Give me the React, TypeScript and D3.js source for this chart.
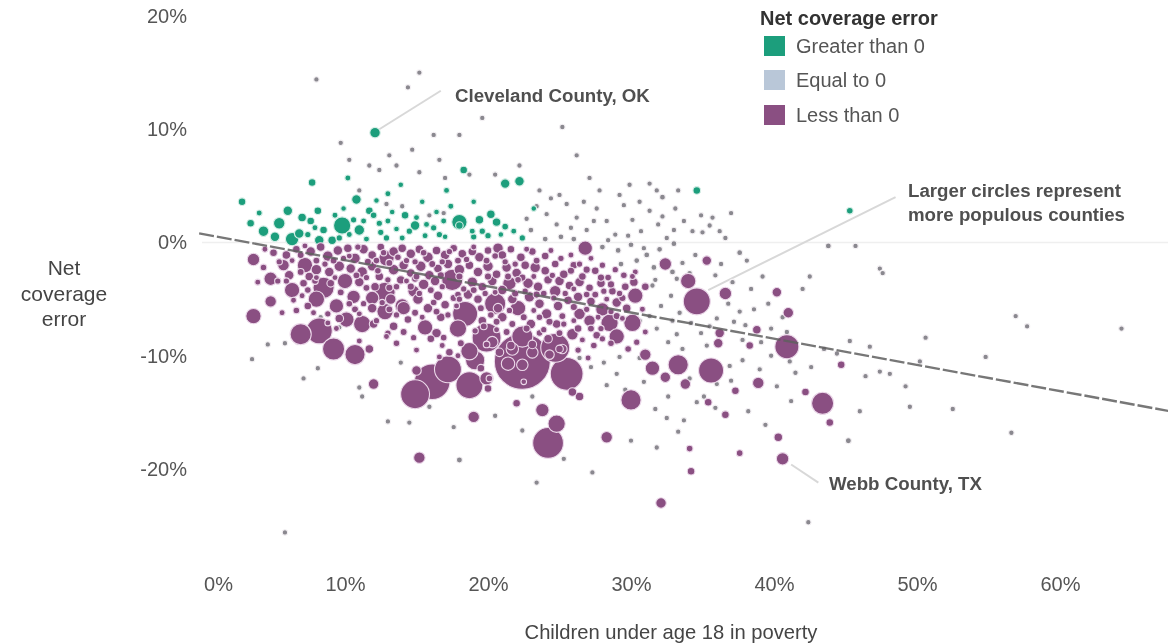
import React, { useEffect, useRef } from 'react';
import * as d3 from 'd3';

// [children in poverty %, net coverage error %, population in thousands]
type County = [number, number, number];

const xTicks = [0, 10, 20, 30, 40, 50, 60];
const yTicks = [20, 10, 0, -10, -20];

const legendLabels = ['Greater than 0', 'Equal to 0', 'Less than 0'];
const legendColors = ['#1f9e7c', '#b9c7d8', '#8a4f82'];

const trendPoverty = [-0.2, 67.7];
const trendError = [0.8, -14.9];

const greaterThanZero: County[] = [
  [9.8, 1.5, 817], [6.3, 0.3, 459], [5.4, 1.7, 319], [4.3, 1.0, 258], [5.1, 0.5, 204], [6.8, 0.8, 204],
  [3.4, 1.7, 115], [2.8, 3.6, 115], [6.0, 2.8, 204], [7.0, 2.2, 156], [7.6, 1.9, 115], [8.1, 2.8, 115],
  [10.8, 3.8, 204], [11.0, 1.1, 258], [8.2, 0.2, 204], [9.1, 0.2, 156], [8.5, 1.1, 115], [7.7, 5.3, 115],
  [14.9, 1.5, 204], [14.2, 2.4, 115], [11.7, 2.8, 115], [12.0, 2.4, 80], [12.1, 9.7, 258], [18.0, 1.8, 625],
  [18.0, 1.5, 115], [20.2, 2.5, 156], [21.2, 5.2, 204], [22.2, 5.4, 204], [18.3, 6.4, 115], [19.4, 2.0, 156],
  [20.6, 1.8, 156], [21.2, 1.4, 80], [34.6, 4.6, 115], [45.3, 2.8, 80], [13.0, 1.9, 60], [13.6, 1.2, 50],
  [12.5, 0.9, 70], [9.9, 3.0, 50], [15.6, 0.6, 60], [16.2, 1.3, 70], [17.0, 0.5, 50], [22.4, 0.4, 70],
  [21.8, 1.0, 60], [19.0, 0.5, 70], [4.0, 2.6, 60], [10.2, 5.7, 60], [13.0, 4.3, 60], [15.4, 3.6, 50],
  [17.1, 4.6, 60], [23.2, 3.0, 50], [11.5, 0.3, 60], [14.0, 0.4, 60], [9.3, 2.4, 60], [10.6, 2.0, 70],
  [11.3, 1.9, 60], [12.4, 1.7, 70], [12.9, 0.4, 70], [13.3, 2.7, 50], [14.5, 1.0, 70], [15.0, 2.2, 60],
  [15.7, 1.6, 60], [16.6, 0.7, 70], [16.9, 1.9, 60], [18.9, 1.0, 60], [19.6, 1.0, 70], [20.0, 0.6, 70],
  [20.9, 0.7, 50], [7.4, 0.7, 70], [7.9, 1.3, 60], [9.6, 0.4, 70], [10.3, 0.7, 60], [16.4, 2.7, 50],
  [17.4, 3.2, 60], [19.0, 3.6, 50], [12.2, 3.7, 50], [13.9, 5.1, 50],
];

const lessThanZero: County[] = [
  [22.4, -10.5, 10000], [16.1, -12.3, 3907], [25.5, -11.6, 3266], [24.2, -17.7, 2871], [14.9, -13.4, 2500],
  [19.9, -8.4, 2500], [24.7, -9.3, 2500], [17.2, -11.2, 2156], [18.7, -12.6, 2156], [34.6, -5.2, 2156],
  [8.2, -7.8, 1993], [18.4, -6.3, 1837], [35.6, -11.3, 1837], [40.9, -9.2, 1687], [9.2, -9.4, 1406],
  [43.4, -14.2, 1406], [8.5, -4.0, 1276], [6.9, -8.1, 1276], [20.5, -5.4, 1276], [22.4, -8.3, 1276],
  [17.5, -3.3, 1276], [10.7, -9.9, 1151], [12.8, -4.4, 1151], [30.0, -13.9, 1151], [33.3, -10.8, 1151],
  [19.1, -10.4, 1033], [11.2, -7.2, 817], [17.9, -7.6, 817], [18.7, -9.6, 817], [24.8, -16.0, 817],
  [30.1, -7.1, 817], [28.5, -7.1, 817], [8.0, -5.0, 718], [12.8, -6.1, 718], [6.3, -4.2, 625],
  [3.6, -6.5, 625], [7.2, -2.0, 625], [10.0, -3.4, 625], [10.1, -6.8, 625], [12.9, -1.4, 625],
  [22.1, -5.8, 625], [15.6, -7.5, 625], [30.3, -4.7, 625], [29.0, -8.3, 625], [34.0, -3.4, 625],
  [9.4, -5.6, 539], [14.0, -5.6, 539], [26.8, -0.5, 539], [31.5, -11.1, 539], [4.8, -3.2, 459],
  [10.6, -4.8, 459], [11.9, -4.9, 459], [19.9, -12.0, 459], [23.8, -14.8, 459], [28.0, -5.9, 459],
  [21.5, -3.6, 459], [14.1, -5.8, 459], [3.6, -1.5, 386], [32.4, -1.9, 386], [36.6, -4.5, 386],
  [40.6, -19.1, 386], [4.8, -5.2, 319], [5.7, -2.0, 319], [14.8, -4.3, 319], [19.0, -15.4, 319],
  [15.2, -19.0, 319], [28.3, -17.2, 319], [27.1, -6.9, 319], [25.9, -8.1, 319], [26.4, -6.3, 319],
  [24.7, -4.3, 319], [31.0, -9.9, 319], [38.9, -12.4, 319], [12.0, -12.5, 258], [23.3, -2.2, 258],
  [20.7, -0.5, 258], [32.4, -11.9, 258], [33.8, -12.5, 258], [41.0, -6.2, 258], [32.1, -23.0, 258],
  [11.7, -9.4, 156], [12.0, -7.2, 156], [16.4, -8.0, 204], [15.0, -11.3, 204], [35.3, -1.6, 204],
  [40.2, -4.4, 204], [36.2, -8.0, 204], [36.1, -8.9, 204], [26.4, -13.6, 156], [25.9, -13.2, 156],
  [40.3, -17.2, 156], [38.8, -7.7, 156], [16.0, -8.5, 115], [17.3, -9.7, 115], [22.0, -14.2, 115],
  [20.0, -12.9, 115], [35.4, -14.1, 115], [37.3, -13.1, 115], [42.2, -13.2, 115], [34.2, -20.2, 115],
  [38.3, -9.1, 115], [44.7, -10.8, 115], [43.9, -15.9, 115], [36.6, -15.2, 115], [37.6, -18.6, 80],
  [34.1, -18.2, 80],
  // circles drawn inside the largest ones
  [21.4, -10.7, 459], [22.4, -10.8, 319], [23.1, -9.7, 319], [21.7, -9.4, 386], [22.5, -12.3, 50], [25.2, -9.4, 204],
  [24.3, -9.9, 204], [20.7, -5.8, 204], [20.3, -8.8, 319], [19.9, -9.0, 80],
  // dense band just under the zero line
  [5.0, -0.9, 115], [5.9, -1.1, 156], [6.6, -0.6, 115], [7.6, -0.8, 204], [8.3, -0.4, 156], [8.8, -1.2, 258],
  [9.5, -0.7, 204], [10.2, -0.5, 156], [10.7, -1.4, 258], [11.3, -0.6, 204], [11.9, -1.1, 156], [12.5, -0.4, 115],
  [13.4, -0.8, 204], [14.0, -0.5, 156], [14.6, -1.0, 204], [15.2, -0.6, 156], [15.8, -1.3, 258], [16.4, -0.7, 156],
  [17.0, -1.1, 204], [17.6, -0.5, 115], [18.2, -1.0, 156], [18.9, -0.8, 156], [19.4, -1.3, 204], [20.0, -0.7, 115],
  [21.0, -1.1, 156], [21.6, -0.6, 115], [22.3, -1.3, 156], [23.1, -0.8, 115], [24.0, -1.2, 115], [6.1, -2.9, 204],
  [7.5, -3.0, 156], [8.0, -2.4, 258], [8.9, -2.6, 204], [9.6, -2.1, 258], [10.4, -2.3, 204], [11.2, -2.6, 258],
  [11.9, -2.1, 204], [12.4, -3.0, 156], [13.4, -2.4, 258], [14.1, -2.0, 204], [14.6, -2.7, 156], [15.3, -2.1, 258],
  [15.9, -2.9, 204], [16.5, -2.3, 156], [17.2, -1.9, 204], [18.0, -2.4, 258], [18.7, -2.0, 156], [19.3, -2.6, 204],
  [20.0, -2.1, 258], [20.6, -2.8, 156], [21.3, -2.2, 204], [22.0, -2.7, 204], [22.6, -2.0, 156], [24.0, -2.5, 156],
  [24.7, -1.9, 115], [25.3, -2.8, 156], [26.0, -2.0, 115], [26.6, -3.0, 115], [27.5, -2.5, 115], [28.4, -3.1, 80],
  [7.1, -3.6, 115], [9.0, -3.6, 115], [11.0, -3.5, 204], [12.1, -3.9, 156], [13.9, -3.3, 156], [15.5, -3.7, 258],
  [16.3, -3.4, 204], [18.9, -3.5, 258], [19.6, -3.9, 156], [20.3, -3.4, 204], [21.0, -4.2, 204], [22.8, -3.6, 258],
  [23.5, -3.9, 204], [24.2, -3.3, 156], [25.0, -3.4, 204], [25.7, -3.8, 156], [26.4, -3.5, 204], [27.1, -4.0, 115],
  [27.9, -3.6, 156], [28.7, -4.3, 115], [29.6, -3.9, 115], [30.2, -3.5, 156], [31.0, -3.9, 115], [7.4, -5.6, 115],
  [6.6, -6.0, 80], [9.6, -6.7, 156], [11.9, -5.8, 204], [13.2, -5.0, 258], [15.1, -5.0, 258], [15.8, -5.8, 204],
  [16.5, -4.7, 204], [17.0, -5.5, 156], [18.6, -4.6, 204], [19.3, -5.0, 156], [21.0, -6.6, 204], [21.7, -5.0, 204],
  [22.9, -4.8, 258], [23.6, -5.4, 204], [24.1, -6.3, 258], [24.9, -5.6, 204], [25.6, -5.1, 156], [26.3, -4.8, 204],
  [27.2, -5.2, 156], [29.0, -5.3, 204], [29.7, -5.8, 156], [13.4, -7.4, 156], [14.4, -6.8, 115], [16.7, -6.6, 156],
  [19.6, -6.9, 156], [23.0, -7.2, 204], [24.8, -7.2, 156], [26.3, -7.6, 115], [27.6, -8.2, 115], [21.6, -9.1, 156],
  [20.8, -9.7, 156], [23.1, -9.0, 156], [24.2, -8.5, 156], [25.0, -9.4, 115], [19.5, -11.1, 115], [20.1, -12.0, 80],
  [28.6, -8.9, 80], [29.8, -9.4, 80], [27.4, -9.1, 80], [13.6, -8.9, 80], [12.9, -8.3, 60], [15.0, -9.5, 60],
  // smaller circles filling the gaps in the band
  [4.4, -0.6, 60], [5.4, -1.7, 70], [6.3, -1.6, 60], [6.9, -1.1, 90], [7.2, -0.3, 60], [8.0, -1.6, 90],
  [8.6, -1.9, 70], [9.2, -1.6, 90], [9.9, -1.4, 70], [10.3, -1.2, 60], [10.9, -0.4, 70], [11.6, -1.7, 90],
  [12.2, -1.6, 80], [12.7, -0.9, 70], [13.1, -1.8, 90], [13.7, -1.3, 80], [14.3, -1.6, 70], [14.9, -1.7, 70],
  [15.5, -0.9, 80], [16.1, -1.9, 90], [16.8, -1.7, 70], [17.3, -0.8, 70], [17.9, -1.6, 90], [18.5, -1.5, 70],
  [19.0, -0.4, 60], [19.9, -1.6, 90], [20.5, -1.2, 80], [21.2, -1.7, 70], [21.9, -1.9, 70], [22.7, -0.6, 60],
  [23.4, -1.6, 90], [24.4, -0.7, 60], [25.1, -1.4, 70], [25.8, -1.1, 60], [26.4, -1.9, 70], [27.2, -1.4, 60],
  [28.0, -2.0, 70], [28.9, -2.4, 70], [29.5, -2.9, 80], [30.3, -2.6, 60], [5.3, -3.4, 70], [6.9, -2.6, 90],
  [7.9, -3.4, 80], [8.0, -3.1, 60], [9.3, -3.1, 60], [10.8, -2.9, 90], [11.5, -3.1, 70], [12.3, -2.5, 80],
  [13.0, -3.3, 70], [13.6, -3.9, 80], [14.3, -3.4, 60], [14.9, -3.2, 90], [15.2, -4.5, 70], [16.0, -4.2, 90],
  [16.8, -3.9, 70], [17.9, -4.6, 80], [18.3, -4.1, 70], [19.0, -4.2, 90], [19.8, -4.5, 70], [20.5, -4.4, 60],
  [21.4, -3.0, 90], [22.1, -3.3, 80], [22.6, -4.3, 70], [23.2, -3.0, 60], [23.9, -4.5, 80], [24.5, -2.9, 70],
  [25.4, -4.5, 70], [26.0, -4.1, 60], [26.9, -4.6, 80], [27.5, -4.6, 90], [28.1, -4.3, 70], [28.3, -5.0, 60],
  [29.2, -4.5, 70], [30.1, -3.0, 60], [6.4, -5.1, 60], [7.0, -4.7, 60], [7.8, -6.2, 60], [8.8, -6.3, 70],
  [10.3, -5.4, 80], [10.7, -5.9, 90], [11.3, -5.4, 70], [11.0, -6.3, 60], [12.2, -6.9, 70], [13.1, -5.9, 90],
  [13.6, -6.4, 70], [14.9, -6.2, 90], [15.4, -6.6, 60], [16.2, -5.3, 80], [16.4, -6.1, 90], [17.2, -6.4, 70],
  [17.8, -5.6, 60], [19.5, -5.8, 90], [20.2, -6.4, 80], [20.6, -7.0, 90], [21.5, -6.0, 70], [21.7, -7.2, 90],
  [22.5, -6.6, 90], [23.2, -6.0, 60], [23.6, -6.6, 80], [25.2, -6.5, 90], [25.3, -7.2, 70], [26.0, -6.9, 60],
  [26.9, -5.9, 70], [27.2, -7.6, 90], [27.7, -6.6, 60], [28.6, -6.1, 70], [29.4, -6.7, 60], [13.0, -8.0, 70],
  [14.1, -7.9, 90], [14.8, -8.4, 70], [16.9, -8.4, 80], [18.1, -8.9, 90], [19.1, -7.8, 70], [20.6, -7.7, 60],
  [21.3, -7.9, 90], [23.9, -7.7, 70], [25.0, -8.0, 90], [26.6, -8.6, 60], [28.0, -8.5, 70], [30.4, -8.8, 70],
  [31.0, -7.9, 60], [30.8, -5.9, 60], [16.8, -9.1, 60], [17.9, -10.0, 60], [26.3, -9.5, 70], [27.0, -10.2, 60],
  [16.6, -10.1, 60], [11.0, -8.7, 60], [9.4, -7.6, 60], [8.8, -7.1, 60], [12.6, -5.3, 70], [14.6, -3.9, 100],
  [17.6, -4.9, 100], [18.0, -5.0, 70], [20.0, -3.0, 100], [21.9, -4.5, 100], [22.4, -3.1, 100], [23.4, -4.6, 100],
  [24.6, -4.9, 70], [25.8, -2.5, 100], [26.9, -2.4, 100], [27.9, -3.1, 100], [28.6, -3.7, 100], [29.4, -4.9, 100],
  [18.0, -3.0, 100], [16.7, -2.9, 100], [15.0, -3.0, 90], [13.1, -4.0, 100], [11.5, -4.0, 90], [9.7, -4.4, 90],
  [7.4, -4.2, 80], [5.9, -3.4, 70], [4.3, -2.2, 80], [3.9, -3.5, 60], [5.6, -6.2, 60], [19.7, -7.4, 90],
  [22.7, -7.6, 100], [24.3, -7.0, 100], [26.0, -5.7, 100], [27.9, -7.6, 70], [29.0, -6.5, 100], [23.6, -8.0, 80],
];

const tinyCounties: County[] = [
  [8.0, 14.4, 45], [14.4, 13.7, 45], [15.2, 15.0, 45], [19.6, 11.0, 45], [16.2, 9.5, 45], [25.2, 10.2, 45],
  [26.2, 7.7, 45], [9.7, 8.8, 45], [13.1, 7.7, 45], [13.6, 6.8, 45], [14.7, 8.2, 45], [16.6, 7.3, 45],
  [18.0, 9.5, 45], [10.3, 7.3, 45], [11.7, 6.8, 45], [12.4, 6.4, 45], [15.2, 6.2, 45], [17.0, 5.7, 45],
  [18.7, 6.0, 45], [20.5, 6.0, 45], [22.2, 6.8, 45], [23.6, 4.6, 45], [25.0, 4.2, 45], [27.1, 5.7, 45],
  [27.8, 4.6, 45], [29.2, 4.2, 45], [31.3, 5.2, 45], [31.8, 4.6, 45], [33.3, 4.6, 45], [32.2, 4.0, 55],
  [23.4, 3.2, 45], [24.1, 2.5, 45], [24.8, 1.6, 45], [25.5, 3.4, 45], [26.2, 2.2, 45], [26.9, 1.1, 45],
  [27.6, 3.0, 45], [28.3, 1.9, 45], [28.9, 0.7, 45], [29.5, 3.3, 45], [30.1, 2.0, 45], [30.7, 1.0, 45],
  [31.3, 2.8, 45], [31.9, 1.6, 45], [32.5, 0.4, 45], [33.1, 3.0, 45], [33.7, 1.9, 45], [34.3, 1.0, 45],
  [34.9, 2.4, 45], [35.5, 1.5, 45], [36.2, 1.0, 45], [37.0, 2.6, 45], [35.0, 0.9, 45], [23.0, 1.1, 55],
  [22.7, 2.1, 45], [16.9, 2.6, 45], [15.9, 2.4, 45], [14.0, 3.2, 45], [12.9, 3.4, 45], [11.0, 4.6, 45],
  [24.0, 0.3, 55], [25.1, 0.5, 55], [26.0, 0.3, 55], [27.0, -0.2, 55], [28.0, -0.4, 55], [29.1, -0.7, 55],
  [30.0, -0.2, 55], [31.1, -1.1, 55], [32.0, -0.6, 55], [33.0, -0.1, 55], [30.4, -1.6, 55], [29.3, -1.9, 55],
  [31.6, -2.2, 55], [32.9, -2.6, 55], [33.6, -1.8, 45], [35.9, -2.9, 45], [34.1, -2.7, 45], [37.6, -0.9, 55],
  [38.1, -1.6, 45], [43.8, -0.3, 55], [45.7, -0.3, 45], [47.4, -2.3, 45], [47.6, -2.7, 45], [42.5, -3.0, 45],
  [42.0, -4.1, 45], [56.9, -6.5, 45], [57.7, -7.4, 45], [64.3, -7.6, 45], [54.8, -10.1, 45], [50.6, -8.4, 45],
  [47.4, -11.4, 45], [48.1, -11.6, 45], [49.5, -14.5, 45], [52.5, -14.7, 45], [56.6, -16.8, 45], [45.2, -17.5, 60],
  [42.4, -24.7, 45], [5.8, -25.6, 45], [50.2, -10.5, 45], [45.3, -8.7, 45], [46.7, -9.2, 45], [46.4, -11.8, 45],
  [49.2, -12.7, 45], [46.0, -14.9, 45], [43.9, -14.0, 45], [41.1, -10.5, 45], [39.0, -11.2, 45], [37.8, -10.4, 45],
  [36.9, -10.9, 45], [38.2, -14.9, 45], [39.4, -16.1, 45], [36.8, -5.4, 45], [37.6, -6.1, 45], [38.6, -5.9, 45],
  [39.6, -5.4, 45], [40.6, -6.6, 45], [37.2, -7.0, 45], [38.0, -7.3, 45], [39.8, -7.6, 45], [40.9, -7.9, 45],
  [34.2, -7.1, 45], [34.9, -8.0, 45], [33.2, -8.1, 45], [32.6, -8.8, 45], [31.8, -7.6, 45], [33.6, -9.4, 45],
  [35.3, -9.1, 45], [31.3, -6.5, 45], [32.1, -5.6, 45], [32.8, -4.7, 45], [33.4, -6.2, 45], [31.7, -3.3, 45],
  [29.2, -10.1, 45], [30.6, -10.2, 45], [30.9, -12.3, 45], [29.0, -11.6, 45], [28.1, -10.6, 45], [27.2, -11.0, 45],
  [26.4, -10.2, 45], [28.3, -12.6, 45], [29.6, -13.0, 45], [31.7, -14.7, 45], [32.5, -15.5, 45], [33.7, -15.7, 45],
  [33.3, -16.7, 45], [34.6, -14.1, 45], [35.1, -13.6, 45], [35.9, -14.6, 45], [30.0, -17.5, 45], [27.3, -20.3, 45],
  [23.4, -21.2, 45], [18.0, -19.2, 60], [31.8, -18.1, 45], [25.3, -19.1, 45], [23.1, -13.6, 45], [22.4, -16.6, 45],
  [6.7, -8.8, 45], [5.8, -8.9, 45], [4.6, -9.0, 45], [3.5, -10.3, 45], [8.3, -6.6, 45], [9.6, -7.5, 45],
  [13.9, -10.6, 45], [15.9, -14.5, 45], [17.6, -16.3, 45], [20.5, -15.3, 45], [13.0, -15.8, 45], [11.2, -13.6, 45],
  [14.5, -15.9, 45], [11.0, -12.8, 45], [8.1, -11.1, 45], [7.1, -12.0, 45], [30.9, -0.5, 45], [31.5, -3.8, 45],
  [33.2, -3.2, 45], [34.5, -1.1, 45], [36.3, -1.9, 45], [37.1, -3.5, 45], [38.4, -4.1, 45], [39.2, -3.0, 45],
  [29.8, 0.6, 45], [28.4, 0.2, 45], [27.4, 1.9, 45], [25.8, 1.3, 45], [24.4, 3.9, 45], [26.7, 3.6, 45],
  [29.9, 5.1, 45], [30.6, 3.6, 45], [33.0, 1.1, 45], [32.2, 2.3, 45], [35.7, 2.2, 45], [36.6, 0.4, 45],
  [30.6, -6.9, 45], [32.9, -6.9, 45], [34.4, -5.9, 45], [36.0, -6.7, 45], [35.5, -7.4, 45], [37.8, -8.6, 45],
  [39.1, -8.8, 45], [39.8, -10.0, 45], [41.5, -11.5, 45], [42.6, -11.0, 45], [43.5, -9.4, 45], [44.4, -9.8, 45],
  [40.2, -12.7, 45], [41.2, -14.0, 45], [37.0, -12.2, 45], [36.0, -12.5, 45], [34.1, -12.0, 45], [32.6, -13.6, 45],
];

export default function App() {
  const svgRef = useRef<SVGSVGElement>(null);

  useEffect(() => {
    if (!svgRef.current) return;
    const svg = d3.select(svgRef.current);
    svg.selectAll('*').remove();

    const width = 1168;
    const height = 644;
    const font = '"Liberation Sans", Arial, sans-serif';

    const x = d3.scaleLinear().domain([0, 60]).range([202, 1060]);
    const y = d3.scaleLinear().domain([-20, 20]).range([469, 16]);
    // small offset so the tiny counties still read as dots
    const r = d3.scaleSqrt().domain([0, 10000]).range([0.9, 28]);

    // soft edge like the photographed source
    const defs = svg.append('defs');
    defs.append('filter').attr('id', 'soft').append('feGaussianBlur').attr('stdDeviation', 0.6);
    defs.append('filter').attr('id', 'softText').append('feGaussianBlur').attr('stdDeviation', 0.35);

    // Zero line
    svg
      .append('line')
      .attr('x1', x(0))
      .attr('x2', width)
      .attr('y1', y(0))
      .attr('y2', y(0))
      .attr('stroke', '#efefef')
      .attr('stroke-width', 1.5);

    // Leader lines
    const leaders = [
      { from: [12.4, 10.0], to: [16.7, 13.4] },
      { from: [35.4, -4.2], to: [48.5, 4.0] },
      { from: [41.2, -19.6], to: [43.1, -21.2] },
    ];
    leaders.forEach((l) => {
      svg
        .append('line')
        .attr('x1', x(l.from[0]))
        .attr('y1', y(l.from[1]))
        .attr('x2', x(l.to[0]))
        .attr('y2', y(l.to[1]))
        .attr('stroke', '#d8d8d8')
        .attr('stroke-width', 2);
    });

    const marks = svg.append('g').attr('filter', 'url(#soft)');

    const drawCounties = (data: County[], fill: string, stroke: string) => {
      const sorted = [...data].sort((a, b) => b[2] - a[2]);
      marks
        .append('g')
        .selectAll('circle')
        .data(sorted)
        .enter()
        .append('circle')
        .attr('cx', (d) => x(d[0]))
        .attr('cy', (d) => y(d[1]))
        .attr('r', (d) => r(d[2]))
        .attr('fill', fill)
        .attr('stroke', stroke)
        .attr('stroke-width', 1.1);
    };

    drawCounties(tinyCounties, '#8a888f', '#f4f1f4');
    drawCounties(greaterThanZero, '#1f9e7c', '#d8efe8');
    drawCounties(lessThanZero, '#8a4f82', '#ecd9ea');

    // Trend line
    const line = d3
      .line<number>()
      .x((d) => x(d))
      .y((_, i) => y(trendError[i]));
    svg
      .append('path')
      .attr('d', line(trendPoverty))
      .attr('fill', 'none')
      .attr('stroke', '#5f5f5f')
      .attr('stroke-width', 2.4)
      .attr('stroke-dasharray', '15,3')
      .attr('opacity', 0.85);

    const labels = svg.append('g').attr('filter', 'url(#softText)');

    // Axes
    const xAxis = labels
      .append('g')
      .attr('transform', 'translate(0,570)')
      .call(
        d3
          .axisBottom(x)
          .tickValues(xTicks)
          .tickSize(0)
          .tickFormat((d) => `${d}%`),
      );
    xAxis.select('.domain').remove();
    xAxis
      .selectAll('text')
      .attr('dx', (d: any) => (d === 0 ? 16 : 0))
      .attr('y', 7)
      .style('font-family', font)
      .style('font-size', '20px')
      .style('fill', '#555');

    const yAxis = labels
      .append('g')
      .attr('transform', 'translate(187,0)')
      .call(
        d3
          .axisLeft(y)
          .tickValues(yTicks)
          .tickSize(0)
          .tickPadding(0)
          .tickFormat((d) => `${d}%`),
      );
    yAxis.select('.domain').remove();
    yAxis
      .selectAll('text')
      .style('font-family', font)
      .style('font-size', '20px')
      .style('fill', '#555');

    const addText = (
      text: string,
      tx: number,
      ty: number,
      anchor: string,
      weight: string,
      color: string,
      size = 20,
    ) => {
      labels
        .append('text')
        .attr('x', tx)
        .attr('y', ty)
        .attr('text-anchor', anchor)
        .style('font-family', font)
        .style('font-size', `${size}px`)
        .style('font-weight', weight)
        .style('fill', color)
        .text(text);
    };

    // Axis titles
    addText('Children under age 18 in poverty', 671, 639, 'middle', 'normal', '#444', 20.2);
    addText('Net', 64, 275, 'middle', 'normal', '#444', 21);
    addText('coverage', 64, 301, 'middle', 'normal', '#444', 21);
    addText('error', 64, 326, 'middle', 'normal', '#444', 21);

    // Annotations
    addText('Cleveland County, OK', 455, 102, 'start', 'bold', '#505050', 18.7);
    addText('Larger circles represent', 908, 197, 'start', 'bold', '#505050', 18.7);
    addText('more populous counties', 908, 221, 'start', 'bold', '#505050', 18.7);
    addText('Webb County, TX', 829, 490, 'start', 'bold', '#505050', 18.7);

    // Legend
    addText('Net coverage error', 760, 25, 'start', 'bold', '#333', 20);
    legendLabels.forEach((label, i) => {
      const top = [36, 70, 105][i];
      labels
        .append('rect')
        .attr('x', 764)
        .attr('y', top)
        .attr('width', 21)
        .attr('height', 20)
        .attr('fill', legendColors[i]);
      addText(label, 796, top + 17, 'start', 'normal', '#555', 20);
    });
  }, []);

  return (
    <div style={{ position: 'absolute', left: 0, top: 0 }}>
      <svg ref={svgRef} width={1168} height={644} style={{ display: 'block', background: '#fff' }}></svg>
    </div>
  );
}
